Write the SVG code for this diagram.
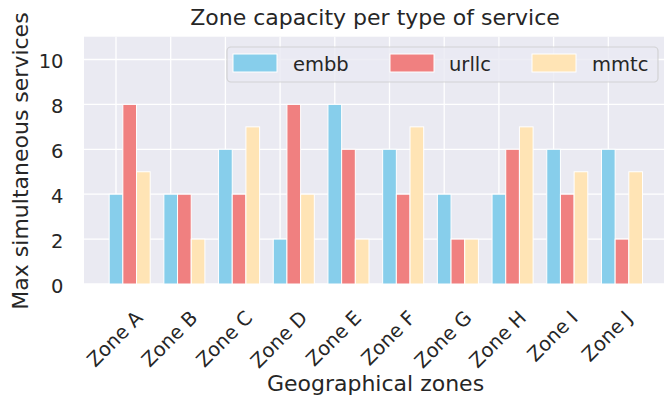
<svg xmlns="http://www.w3.org/2000/svg" width="664" height="403" viewBox="0 0 664 403">
<style>
text{font-family:"DejaVu Sans","Liberation Sans",sans-serif;fill:#262626}
.grid{stroke:#fff;stroke-width:1.3;fill:none}
.bar{stroke:#fff;stroke-width:1}
.embb{fill:#87CEEB}
.urllc{fill:#F08080}
.mmtc{fill:#FFE4B5}
.ytick{font-size:19.5px;text-anchor:end}
.xtick{font-size:19.5px;text-anchor:middle;dominant-baseline:central}
.lbl{font-size:22px;text-anchor:middle}
.leg{font-size:19.5px}
</style>
<rect width="664" height="403" fill="#fff"/>
<g id="axes">
<rect x="84" y="36.7" width="585" height="247.3" fill="#EAEAF2"/>
<g id="gridlines" class="grid">
<path d="M84 284H669M84 239.1H669M84 194.2H669M84 149.3H669M84 104.4H669M84 59.5H669"/>
<path d="M116 36.7V284M170.7 36.7V284M225.4 36.7V284M280.1 36.7V284M334.8 36.7V284M389.5 36.7V284M444.2 36.7V284M498.9 36.7V284M553.6 36.7V284M608.3 36.7V284"/>
</g>
</g>
<g id="bars">
<g id="zoneA" transform="translate(109.16,0)"><rect class="bar embb" x="0" y="194.2" width="13.68" height="89.8"/><rect class="bar urllc" x="13.68" y="104.4" width="13.68" height="179.6"/><rect class="bar mmtc" x="27.36" y="171.75" width="13.68" height="112.25"/></g>
<g id="zoneB" transform="translate(163.86,0)"><rect class="bar embb" x="0" y="194.2" width="13.68" height="89.8"/><rect class="bar urllc" x="13.68" y="194.2" width="13.68" height="89.8"/><rect class="bar mmtc" x="27.36" y="239.1" width="13.68" height="44.9"/></g>
<g id="zoneC" transform="translate(218.56,0)"><rect class="bar embb" x="0" y="149.3" width="13.68" height="134.7"/><rect class="bar urllc" x="13.68" y="194.2" width="13.68" height="89.8"/><rect class="bar mmtc" x="27.36" y="126.85" width="13.68" height="157.15"/></g>
<g id="zoneD" transform="translate(273.26,0)"><rect class="bar embb" x="0" y="239.1" width="13.68" height="44.9"/><rect class="bar urllc" x="13.68" y="104.4" width="13.68" height="179.6"/><rect class="bar mmtc" x="27.36" y="194.2" width="13.68" height="89.8"/></g>
<g id="zoneE" transform="translate(327.96,0)"><rect class="bar embb" x="0" y="104.4" width="13.68" height="179.6"/><rect class="bar urllc" x="13.68" y="149.3" width="13.68" height="134.7"/><rect class="bar mmtc" x="27.36" y="239.1" width="13.68" height="44.9"/></g>
<g id="zoneF" transform="translate(382.66,0)"><rect class="bar embb" x="0" y="149.3" width="13.68" height="134.7"/><rect class="bar urllc" x="13.68" y="194.2" width="13.68" height="89.8"/><rect class="bar mmtc" x="27.36" y="126.85" width="13.68" height="157.15"/></g>
<g id="zoneG" transform="translate(437.36,0)"><rect class="bar embb" x="0" y="194.2" width="13.68" height="89.8"/><rect class="bar urllc" x="13.68" y="239.1" width="13.68" height="44.9"/><rect class="bar mmtc" x="27.36" y="239.1" width="13.68" height="44.9"/></g>
<g id="zoneH" transform="translate(492.06,0)"><rect class="bar embb" x="0" y="194.2" width="13.68" height="89.8"/><rect class="bar urllc" x="13.68" y="149.3" width="13.68" height="134.7"/><rect class="bar mmtc" x="27.36" y="126.85" width="13.68" height="157.15"/></g>
<g id="zoneI" transform="translate(546.76,0)"><rect class="bar embb" x="0" y="149.3" width="13.68" height="134.7"/><rect class="bar urllc" x="13.68" y="194.2" width="13.68" height="89.8"/><rect class="bar mmtc" x="27.36" y="171.75" width="13.68" height="112.25"/></g>
<g id="zoneJ" transform="translate(601.46,0)"><rect class="bar embb" x="0" y="149.3" width="13.68" height="134.7"/><rect class="bar urllc" x="13.68" y="239.1" width="13.68" height="44.9"/><rect class="bar mmtc" x="27.36" y="171.75" width="13.68" height="112.25"/></g>
</g>
<g id="legend">
<rect x="227" y="47" width="431" height="35" rx="4" fill="#EAEAF2" fill-opacity="0.8" stroke="#CCCCCC" stroke-opacity="0.8" stroke-width="1.2"/>
<rect class="bar embb" x="233" y="54" width="44" height="18"/>
<text class="leg" x="293" y="70.5">embb</text>
<rect class="bar urllc" x="390" y="54" width="44" height="18"/>
<text class="leg" x="449" y="70.5">urllc</text>
<rect class="bar mmtc" x="532" y="54" width="44" height="18"/>
<text class="leg" x="592" y="70.5">mmtc</text>
</g>
<g id="yticks">
<text class="ytick" x="63.5" y="292.8">0</text>
<text class="ytick" x="63.5" y="247.9">2</text>
<text class="ytick" x="63.5" y="203">4</text>
<text class="ytick" x="63.5" y="158.1">6</text>
<text class="ytick" x="63.5" y="113.2">8</text>
<text class="ytick" x="63.5" y="68.3">10</text>
</g>
<g id="xticks">
<text class="xtick" x="115" y="339" transform="rotate(-45 115 339)">Zone A</text>
<text class="xtick" x="169.7" y="339" transform="rotate(-45 169.7 339)">Zone B</text>
<text class="xtick" x="224.4" y="339.1" transform="rotate(-45 224.4 339.1)">Zone C</text>
<text class="xtick" x="279.1" y="339.5" transform="rotate(-45 279.1 339.5)">Zone D</text>
<text class="xtick" x="333.8" y="338.6" transform="rotate(-45 333.8 338.6)">Zone E</text>
<text class="xtick" x="388.5" y="338.2" transform="rotate(-45 388.5 338.2)">Zone F</text>
<text class="xtick" x="443.2" y="339.5" transform="rotate(-45 443.2 339.5)">Zone G</text>
<text class="xtick" x="497.9" y="339.4" transform="rotate(-45 497.9 339.4)">Zone H</text>
<text class="xtick" x="552.6" y="336.3" transform="rotate(-45 552.6 336.3)">Zone I</text>
<text class="xtick" x="607.3" y="336.3" transform="rotate(-45 607.3 336.3)">Zone J</text>
</g>
<g id="labels">
<text class="lbl" x="375" y="25">Zone capacity per type of service</text>
<text class="lbl" x="375.5" y="391">Geographical zones</text>
<text class="lbl" x="0" y="0" transform="translate(28,161) rotate(-90)">Max simultaneous services</text>
</g>
</svg>
